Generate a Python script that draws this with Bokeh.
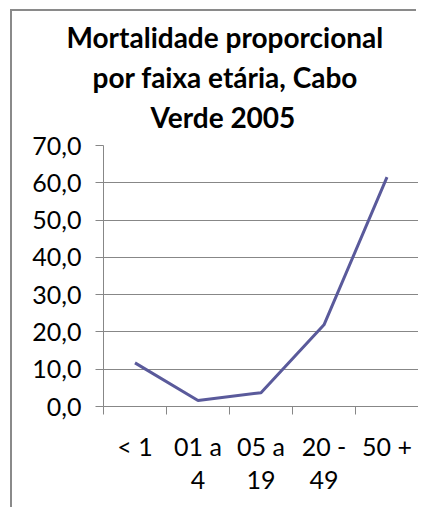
from bokeh.plotting import figure
from bokeh.models import FixedTicker, Title, LinearAxis, Range1d, Grid
from bokeh.embed import file_html
from bokeh.resources import INLINE

# ---- data ----
categories = ["< 1", "01 a 4", "05 a 19", "20 - 49", "50 +"]
label_line1 = ["< 1", "01 a", "05 a", "20 -", "50 +"]
label_line2 = ["", "4", "19", "49", ""]
values = [11.7, 1.6, 3.7, 21.9, 61.5]
y_ticks = [0, 10, 20, 30, 40, 50, 60, 70]
title_lines = ["Mortalidade proporcional", "por faixa etária, Cabo", "Verde 2005"]
title_offsets = [-37, -11, 47]

FONT = "Lato"
GREY = "#878787"
LINE = "#5A5A9B"

n = len(categories)
xs = [i + 0.5 for i in range(n)]
bounds = list(range(n + 1))

p = figure(width=406, height=498, x_range=Range1d(0, n), y_range=Range1d(0, 70),
           output_backend="svg", toolbar_location=None, title=None,
           x_axis_type=None, y_axis_type=None,
           min_border_left=91, min_border_right=0, min_border_top=134, min_border_bottom=103)
p.outline_line_color = None
p.background_fill_color = "white"
p.border_fill_color = "white"
p.styles = {"box-shadow": "-2px -2px 0px 0px #8a8a8a",
            "margin-left": "12px", "position": "relative", "top": "11px"}

yaxis = LinearAxis(ticker=FixedTicker(ticks=y_ticks),
                   major_label_overrides={v: f"{v:.1f}".replace(".", ",") for v in y_ticks})
yaxis.major_tick_out = 8
yaxis.major_tick_in = 0
yaxis.minor_tick_out = 0
yaxis.major_tick_line_color = GREY
yaxis.axis_line_color = GREY
yaxis.major_label_text_font = FONT
yaxis.major_label_text_font_size = "25px"
yaxis.major_label_text_color = "black"
yaxis.major_label_standoff = 14
p.add_layout(yaxis, "left")

xaxis = LinearAxis(ticker=FixedTicker(ticks=xs, minor_ticks=bounds),
                   major_label_overrides={x: (a + "\n" + b) for x, a, b in zip(xs, label_line1, label_line2)})
xaxis.major_tick_out = 0
xaxis.major_tick_in = 0
xaxis.minor_tick_out = 8
xaxis.minor_tick_in = 0
xaxis.minor_tick_line_color = GREY
xaxis.axis_line_color = GREY
xaxis.major_label_text_font = FONT
xaxis.major_label_text_font_size = "25px"
xaxis.major_label_text_line_height = 1.1
xaxis.major_label_text_color = "black"
xaxis.major_label_standoff = 16
p.add_layout(xaxis, "below")

p.add_layout(Grid(dimension=1, ticker=yaxis.ticker, grid_line_color=GREY, grid_line_width=1))

p.line(xs, values, line_color=LINE, line_width=3)

# small spacer between the plot area and the title block
p.add_layout(Title(text=" ", text_font_size="1px", standoff=7), "above")
for t, off in reversed(list(zip(title_lines, title_offsets))):
    p.add_layout(Title(text=t, align="left", text_font=FONT, text_font_size="28px",
                       text_font_style="bold", text_color="black", offset=off,
                       standoff=4), "above")

open("out.html", "w").write(file_html(p, INLINE))
